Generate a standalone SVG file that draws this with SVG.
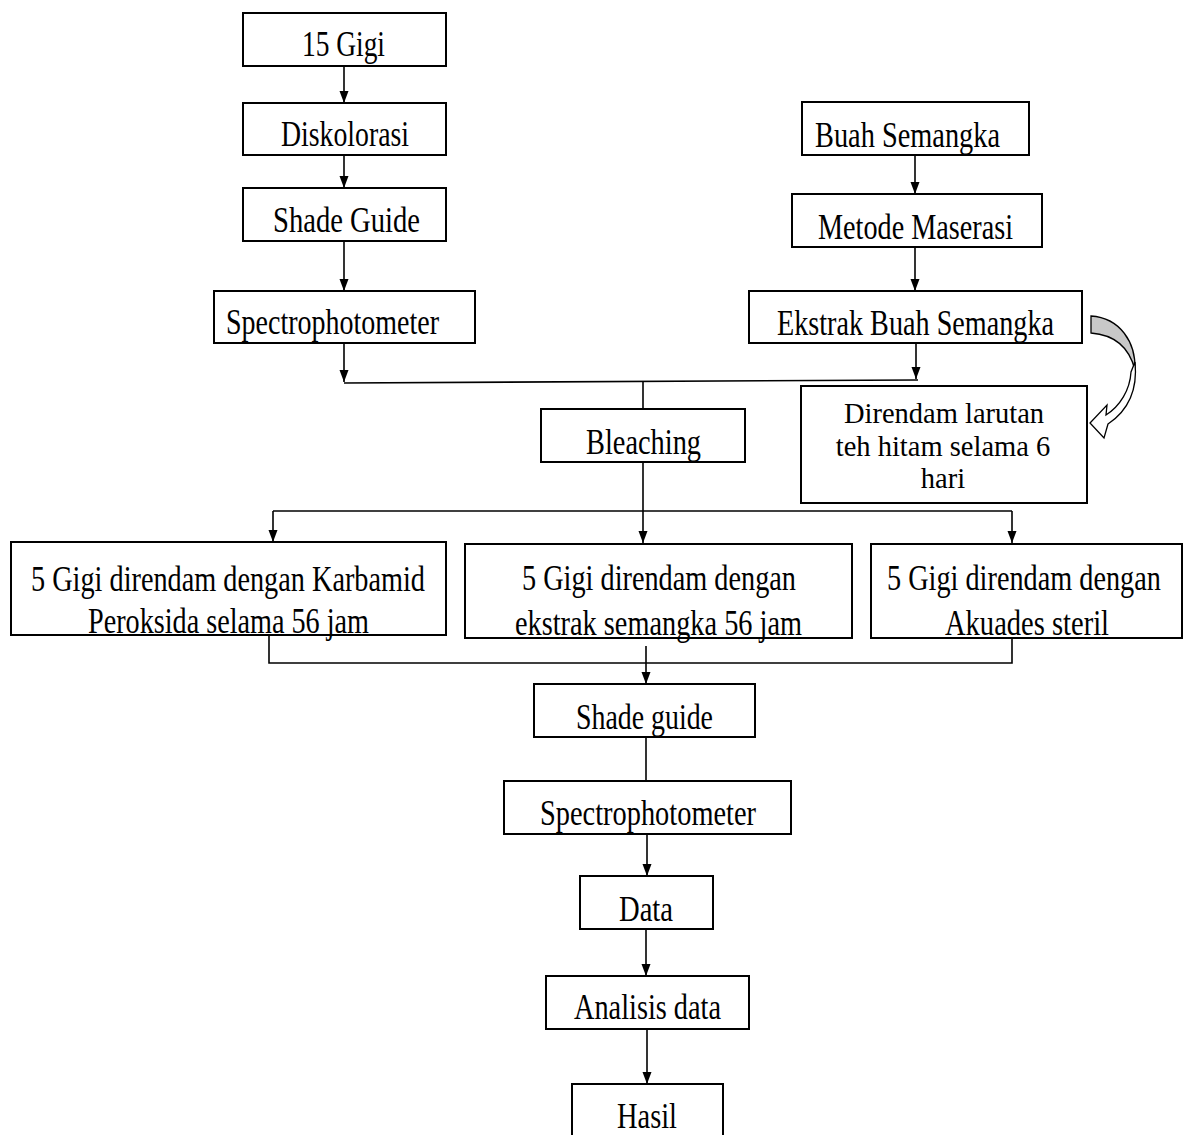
<svg xmlns="http://www.w3.org/2000/svg" width="1183" height="1135" viewBox="0 0 1183 1135">
<style>
.box{fill:#fff;stroke:#000;stroke-width:2}
.t{font-family:"Liberation Serif","Times New Roman",serif;font-size:36px;fill:#000}
.s{font-family:"Liberation Serif","Times New Roman",serif;font-size:28.5px;fill:#000;text-anchor:middle}
.c{fill:none;stroke:#000;stroke-width:1.6}
.a{marker-end:url(#ah)}
</style>
<defs>
<marker id="ah" markerUnits="userSpaceOnUse" markerWidth="12" markerHeight="10" refX="12" refY="5" orient="auto">
<path d="M0,0.5 L12,5 L0,9.5 Z" fill="#000"/>
</marker>
</defs>
<rect width="1183" height="1135" fill="#fff"/>
<g id="connectors">
<path class="c a" d="M344,66 V103"/>
<path class="c a" d="M344,155 V188"/>
<path class="c a" d="M344,241 V291"/>
<path class="c a" d="M344,343 V382"/>
<path class="c" d="M344,383 L918,380"/>
<path class="c a" d="M915,155 V194"/>
<path class="c a" d="M915,247 V291"/>
<path class="c a" d="M916,343 V379"/>
<path class="c" d="M643,381 V409"/>
<path class="c a" d="M643,462 V543"/>
<path class="c" d="M273,511 H1012"/>
<path class="c a" d="M273,511 V542"/>
<path class="c a" d="M1012,511 V543"/>
<path class="c" d="M269,635 V663 H1012 V638"/>
<path class="c a" d="M646,646 V684"/>
<path class="c" d="M646,737 V781"/>
<path class="c a" d="M647,834 V876"/>
<path class="c a" d="M646,929 V976"/>
<path class="c a" d="M647,1029 V1084"/>
<path d="M1091,316 C1120,318 1136,342 1135,370 C1130,350 1117,335 1091,333 Z" fill="#c8c8c8" stroke="#000" stroke-width="1.3"/>
<path d="M1135,362 C1138,392 1126,412 1108,424 L1104,438 L1090,423 L1107,405 L1106,415 C1120,406 1130,390 1131,372 Z" fill="#fff" stroke="#000" stroke-width="1.3"/>
</g>
<g id="n-15gigi"><rect class="box" x="243" y="13" width="203" height="53"/><text class="t" x="302" y="56" textLength="83" lengthAdjust="spacingAndGlyphs">15 Gigi</text></g>
<g id="n-diskolorasi"><rect class="box" x="243" y="103" width="203" height="52"/><text class="t" x="281" y="146" textLength="128" lengthAdjust="spacingAndGlyphs">Diskolorasi</text></g>
<g id="n-shadeguide1"><rect class="box" x="243" y="188" width="203" height="53"/><text class="t" x="273" y="232" textLength="147" lengthAdjust="spacingAndGlyphs">Shade Guide</text></g>
<g id="n-spectro1"><rect class="box" x="214" y="291" width="261" height="52"/><text class="t" x="226" y="334" textLength="213" lengthAdjust="spacingAndGlyphs">Spectrophotometer</text></g>
<g id="n-buah"><rect class="box" x="802" y="102" width="227" height="53"/><text class="t" x="815" y="147" textLength="185" lengthAdjust="spacingAndGlyphs">Buah Semangka</text></g>
<g id="n-metode"><rect class="box" x="792" y="194" width="250" height="53"/><text class="t" x="818" y="239" textLength="195" lengthAdjust="spacingAndGlyphs">Metode Maserasi</text></g>
<g id="n-ekstrak"><rect class="box" x="749" y="291" width="333" height="52"/><text class="t" x="777" y="335" textLength="277" lengthAdjust="spacingAndGlyphs">Ekstrak Buah Semangka</text></g>
<g id="n-direndam"><rect class="box" x="801" y="386" width="286" height="117"/><text class="s" x="944" y="423">Direndam larutan</text><text class="s" x="943" y="456">teh hitam selama 6</text><text class="s" x="943" y="488">hari</text></g>
<g id="n-bleaching"><rect class="box" x="541" y="409" width="204" height="53"/><text class="t" x="586" y="454" textLength="115" lengthAdjust="spacingAndGlyphs">Bleaching</text></g>
<g id="n-karbamid"><rect class="box" x="11" y="542" width="435" height="93"/><text class="t" x="31" y="591" textLength="394" lengthAdjust="spacingAndGlyphs">5 Gigi direndam dengan Karbamid</text><text class="t" x="88" y="633" textLength="281" lengthAdjust="spacingAndGlyphs">Peroksida selama 56 jam</text></g>
<g id="n-ekstraksemangka"><rect class="box" x="465" y="544" width="387" height="94"/><text class="t" x="522" y="590" textLength="274" lengthAdjust="spacingAndGlyphs">5 Gigi direndam dengan</text><text class="t" x="515" y="635" textLength="287" lengthAdjust="spacingAndGlyphs">ekstrak semangka 56 jam</text></g>
<g id="n-akuades"><rect class="box" x="871" y="544" width="311" height="94"/><text class="t" transform="translate(887,590) scale(0.785,1)">5 Gigi direndam dengan</text><text class="t" x="945" y="635" textLength="164" lengthAdjust="spacingAndGlyphs">Akuades steril</text></g>
<g id="n-shadeguide2"><rect class="box" x="534" y="684" width="221" height="53"/><text class="t" x="576" y="729" textLength="137" lengthAdjust="spacingAndGlyphs">Shade guide</text></g>
<g id="n-spectro2"><rect class="box" x="504" y="781" width="287" height="53"/><text class="t" x="540" y="825" textLength="216" lengthAdjust="spacingAndGlyphs">Spectrophotometer</text></g>
<g id="n-data"><rect class="box" x="580" y="876" width="133" height="53"/><text class="t" x="619" y="921" textLength="54" lengthAdjust="spacingAndGlyphs">Data</text></g>
<g id="n-analisis"><rect class="box" x="546" y="976" width="203" height="53"/><text class="t" x="574" y="1019" textLength="147" lengthAdjust="spacingAndGlyphs">Analisis data</text></g>
<g id="n-hasil"><rect class="box" x="572" y="1084" width="151" height="60"/><text class="t" x="617" y="1128" textLength="60" lengthAdjust="spacingAndGlyphs">Hasil</text></g>
</svg>
